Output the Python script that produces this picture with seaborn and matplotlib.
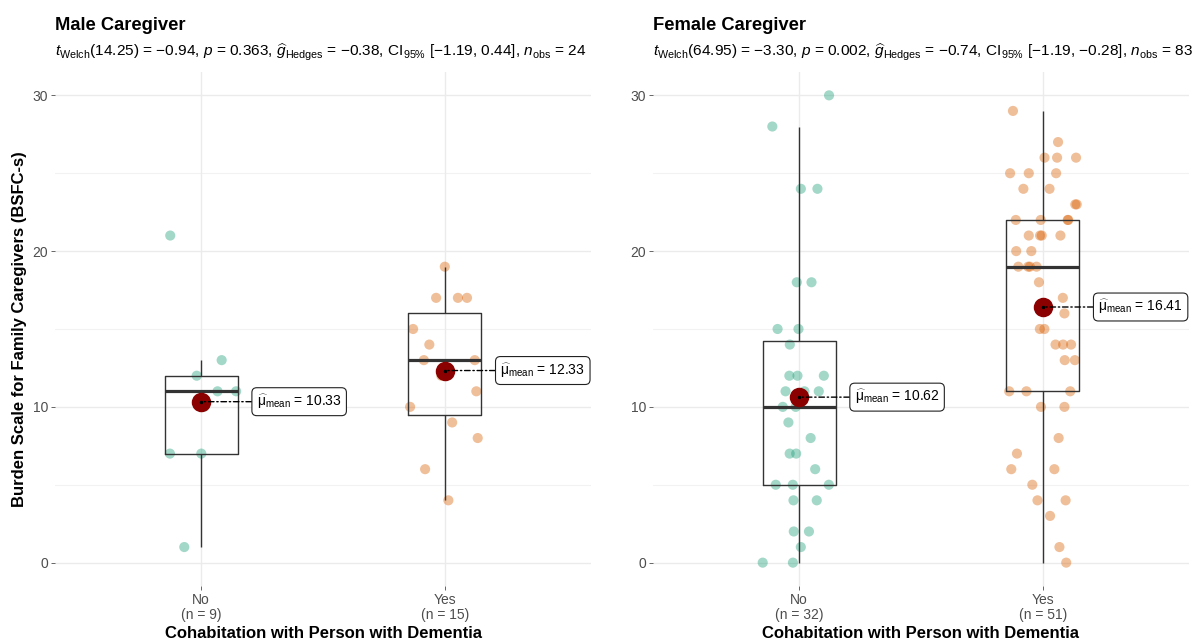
import numpy as np
import pandas as pd
import seaborn as sns
import matplotlib
matplotlib.use("Agg")
from matplotlib import pyplot as plt

# Burden scores, one list per group
male_no = [21, 13, 12, 11, 11, 10, 7, 7, 1]
male_yes = [19, 17, 17, 17, 15, 14, 13, 13, 12, 11, 10, 9, 8, 6, 4]
female_no = [30, 28, 24, 24, 18, 18, 15, 15, 14, 12, 12, 12, 11, 11, 11, 10,
             10, 9, 8, 7, 7, 6, 5, 5, 5, 4, 4, 2, 2, 1, 0, 0]
female_yes = [29, 27, 26, 26, 26, 25, 25, 25, 24, 24, 23, 23, 22, 22, 22, 22,
              21, 21, 21, 21, 20, 20, 19, 19, 19, 19, 18, 17, 16, 15, 15, 14,
              14, 14, 13, 13, 11, 11, 11, 10, 10, 8, 7, 6, 6, 5, 4, 4, 3, 1, 0]

panel_titles = ['Male Caregiver', 'Female Caregiver']
welch_df = ['14.25', '64.95']
t_vals = ['−0.94', '−3.30']
p_vals = ['0.363', '0.002']
g_vals = ['−0.38', '−0.74']
ci_vals = ['[−1.19, 0.44]', '[−1.19, −0.28]']
n_obs = [24, 83]
groups = ['No', 'Yes']
yticks = [0, 10, 20, 30]

sns.set_theme(style='white')
plt.rcParams['font.family'] = ['Liberation Sans', 'DejaVu Sans']
plt.rcParams['mathtext.fontset'] = 'custom'
plt.rcParams['mathtext.rm'] = 'Liberation Sans'
plt.rcParams['mathtext.it'] = 'Liberation Sans:italic'
plt.rcParams['mathtext.bf'] = 'Liberation Sans:bold'
plt.rcParams['text.color'] = 'black'
plt.rcParams['axes.labelcolor'] = 'black'

pal = {'No': '#1B9E77', 'Yes': '#D95F02'}
grid_col = '#EBEBEB'

fig = plt.figure(figsize=(11.99, 6.41), dpi=100)
# panel positions in figure fraction (left, bottom, width, height)
ax_pos = [[0.0459, 0.0858, 0.4470, 0.8019],
          [0.5446, 0.0858, 0.4470, 0.8019]]

np.random.seed(7)
for k, (no_vals, yes_vals) in enumerate([(male_no, male_yes), (female_no, female_yes)]):
    ax = fig.add_axes(ax_pos[k])
    df = pd.DataFrame({
        'cohab': ['No'] * len(no_vals) + ['Yes'] * len(yes_vals),
        'score': no_vals + yes_vals,
    })

    # grid: major + minor
    for yv in [0, 10, 20, 30]:
        ax.axhline(yv, color=grid_col, lw=1.0, zorder=0)
    for yv in [5, 15, 25]:
        ax.axhline(yv, color='#F2F2F2', lw=0.8, zorder=0)
    for xv in [0, 1]:
        ax.axvline(xv, color=grid_col, lw=1.0, zorder=0)

    sns.stripplot(data=df, x='cohab', y='score', hue='cohab', palette=pal,
                  order=groups, jitter=0.15, size=7.3, alpha=0.4,
                  linewidth=0, legend=False, ax=ax, zorder=2)
    sns.boxplot(data=df, x='cohab', y='score', order=groups, width=0.3,
                fill=False, color='#333333', showfliers=False, showcaps=False,
                linewidth=1.0, medianprops={'linewidth': 2.3},
                whis=1.5, ax=ax, zorder=3)
    sns.pointplot(data=df, x='cohab', y='score', order=groups,
                  estimator='mean', errorbar=None, linestyle='none',
                  color='#8B0000', markersize=12, ax=ax, zorder=5)

    means = df.groupby('cohab')['score'].mean()
    for i, g in enumerate(groups):
        m = means[g]
        ax.annotate(r'$\widehat{\mathrm{\mu}}_{\mathrm{mean}}$' + f' = {m:.2f}',
                    xy=(i, m), xytext=(40, 0),
                    textcoords='offset points', ha='left', va='center',
                    fontsize=10, zorder=6,
                    bbox=dict(boxstyle='round,pad=0.35', fc='white',
                              ec='#222222', lw=0.8),
                    arrowprops=dict(arrowstyle='-', linestyle=(0, (4, 2, 1, 2)),
                                    color='black', lw=1.0,
                                    shrinkA=0, shrinkB=0))
        ax.plot(i, m, marker='o', ms=1.5, color='black', zorder=6)

    counts = df['cohab'].value_counts()
    ax.set_xticks([0, 1])
    ax.set_xticklabels([f'{g}\n(n = {counts[g]})' for g in groups],
                       color='#4D4D4D', fontsize=10, linespacing=1.1)
    ax.set_yticks(yticks)
    ax.set_yticklabels([str(v) for v in yticks], color='#4D4D4D', fontsize=10)
    ax.tick_params(axis='both', length=3, width=0.6, color='#4D4D4D',
                   pad=2, left=True, bottom=True)
    ax.set_xlim(-0.6, 1.6)
    ax.set_ylim(-1.5, 31.5)
    for s in ax.spines.values():
        s.set_visible(False)

    ax.set_xlabel('Cohabitation with Person with Dementia', fontsize=12,
                  fontweight='bold', labelpad=3)
    if k == 0:
        ax.set_ylabel('Burden Scale for Family Caregivers (BSFC-s)',
                      fontsize=12, fontweight='bold', labelpad=4)
    else:
        ax.set_ylabel('')

    sub = (r'$t_{\mathrm{Welch}}$' + f'({welch_df[k]}) = {t_vals[k]}, '
           + r'$p$' + f' = {p_vals[k]}, '
           + r'$\widehat{g}_{\mathrm{Hedges}}$' + f' = {g_vals[k]}, '
           + r'CI$_{95\%}$' + f' {ci_vals[k]}, '
           + r'$n_{\mathrm{obs}}$' + f' = {n_obs[k]}')
    ax.text(0.0, 1.082, panel_titles[k], transform=ax.transAxes,
            fontsize=13.2, fontweight='bold', ha='left', va='baseline')
    ax.text(0.0, 1.031, sub, transform=ax.transAxes, fontsize=11.1,
            ha='left', va='baseline')

fig.savefig('out.png', dpi=100)
